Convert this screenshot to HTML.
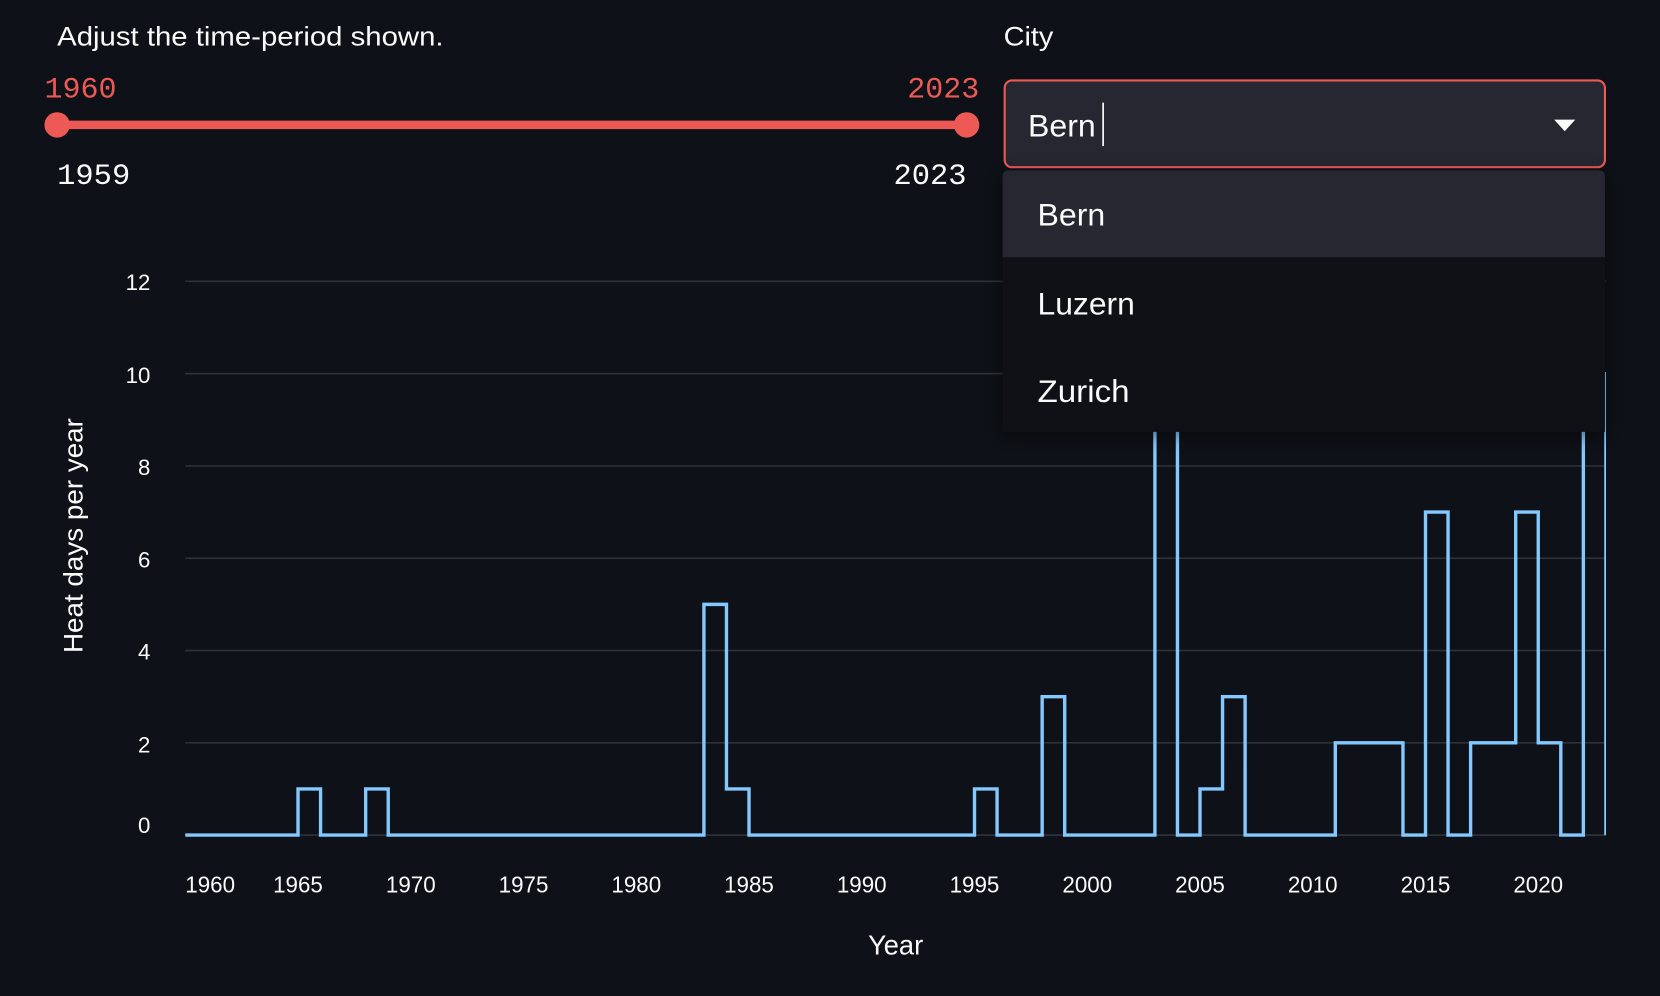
<!DOCTYPE html>
<html>
<head>
<meta charset="utf-8">
<style>
  html,body{margin:0;padding:0;background:#0e1117;overflow:hidden;}
  svg{display:block;}
  .sans{font-family:"Liberation Sans",sans-serif;}
  .mono{font-family:"Liberation Mono",monospace;}
</style>
</head>
<body>
<svg width="1660" height="996" viewBox="0 0 1568 941" preserveAspectRatio="none" xmlns="http://www.w3.org/2000/svg">
  <defs>
    <clipPath id="plot"><rect x="170" y="200" width="1347" height="600"/></clipPath>
    <filter id="blur" x="-10%" y="-10%" width="120%" height="130%" color-interpolation-filters="sRGB">
      <feGaussianBlur stdDeviation="8"/>
    </filter>
  </defs>
  <rect x="0" y="0" width="1568" height="941" fill="#0e1117"/>

  <!-- Slider widget -->
  <text x="54" y="43" class="sans" font-size="25" fill="#fafafa" textLength="365" lengthAdjust="spacingAndGlyphs">Adjust the time-period shown.</text>
  <text x="42" y="92" class="mono" font-size="28" fill="#ed5a55" textLength="68" lengthAdjust="spacingAndGlyphs">1960</text>
  <text x="925" y="92" class="mono" font-size="28" fill="#ed5a55" text-anchor="end" textLength="68" lengthAdjust="spacingAndGlyphs">2023</text>
  <line x1="54" y1="118" x2="913" y2="118" stroke="#ed5a55" stroke-width="8"/>
  <circle cx="54" cy="118" r="12" fill="#ed5a55"/>
  <circle cx="913" cy="118" r="12" fill="#ed5a55"/>
  <text x="54" y="174" class="mono" font-size="28" fill="#fafafa" textLength="69" lengthAdjust="spacingAndGlyphs">1959</text>
  <text x="913" y="174" class="mono" font-size="28" fill="#fafafa" text-anchor="end" textLength="69" lengthAdjust="spacingAndGlyphs">2023</text>

  <!-- Chart gridlines -->
  <g stroke="#2f3139" stroke-width="1.6">
    <line x1="175" y1="265.8" x2="1517" y2="265.8"/>
    <line x1="175" y1="353" x2="1517" y2="353"/>
    <line x1="175" y1="440.2" x2="1517" y2="440.2"/>
    <line x1="175" y1="527.4" x2="1517" y2="527.4"/>
    <line x1="175" y1="614.6" x2="1517" y2="614.6"/>
    <line x1="175" y1="701.8" x2="1517" y2="701.8"/>
    <line x1="175" y1="789" x2="1517" y2="789"/>
  </g>

  <!-- Y tick labels -->
  <g class="sans" font-size="21" fill="#fafafa" text-anchor="end">
    <text x="142" y="274">12</text>
    <text x="142" y="362">10</text>
    <text x="142" y="449">8</text>
    <text x="142" y="536">6</text>
    <text x="142" y="623">4</text>
    <text x="142" y="711">2</text>
    <text x="142" y="787">0</text>
  </g>
  <text transform="translate(78,506) rotate(-90)" class="sans" font-size="25" fill="#fafafa" text-anchor="middle" textLength="222" lengthAdjust="spacingAndGlyphs">Heat days per year</text>

  <!-- X tick labels -->
  <g class="sans" font-size="22" fill="#fafafa" text-anchor="middle">
    <text x="175" y="843" text-anchor="start" textLength="47" lengthAdjust="spacingAndGlyphs">1960</text>
    <text x="281.5" y="843" textLength="47" lengthAdjust="spacingAndGlyphs">1965</text>
    <text x="388" y="843" textLength="47" lengthAdjust="spacingAndGlyphs">1970</text>
    <text x="494.5" y="843" textLength="47" lengthAdjust="spacingAndGlyphs">1975</text>
    <text x="601" y="843" textLength="47" lengthAdjust="spacingAndGlyphs">1980</text>
    <text x="707.5" y="843" textLength="47" lengthAdjust="spacingAndGlyphs">1985</text>
    <text x="814" y="843" textLength="47" lengthAdjust="spacingAndGlyphs">1990</text>
    <text x="920.5" y="843" textLength="47" lengthAdjust="spacingAndGlyphs">1995</text>
    <text x="1027" y="843" textLength="47" lengthAdjust="spacingAndGlyphs">2000</text>
    <text x="1133.5" y="843" textLength="47" lengthAdjust="spacingAndGlyphs">2005</text>
    <text x="1240" y="843" textLength="47" lengthAdjust="spacingAndGlyphs">2010</text>
    <text x="1346.5" y="843" textLength="47" lengthAdjust="spacingAndGlyphs">2015</text>
    <text x="1453" y="843" textLength="47" lengthAdjust="spacingAndGlyphs">2020</text>
  </g>
  <text x="846" y="902" class="sans" font-size="26" fill="#fafafa" text-anchor="middle" textLength="52" lengthAdjust="spacingAndGlyphs">Year</text>

  <!-- Step line -->
  <path clip-path="url(#plot)" fill="none" stroke="#83c9ff" stroke-width="3.2" stroke-linejoin="miter"
    d="M175,789 H281.5 V745.4 H302.8 V789 H345.4 V745.4 H366.7 V789 H664.9 V571 H686.2 V745.4 H707.5 V789 H920.5 V745.4 H941.8 V789 H984.4 V658.2 H1005.7 V789 H1090.9 V265.8 H1112.2 V789 H1133.5 V745.4 H1154.8 V658.2 H1176.1 V789 H1261.3 V701.8 H1325.2 V789 H1346.5 V483.8 H1367.8 V789 H1389.1 V701.8 H1431.7 V483.8 H1453 V701.8 H1474.3 V789 H1495.6 V353 H1516.9 V789"/>

  <!-- City select -->
  <text x="948" y="43" class="sans" font-size="25" fill="#fafafa" textLength="47" lengthAdjust="spacingAndGlyphs">City</text>
  <rect x="949" y="76" width="567" height="82" rx="7" ry="7" fill="#262730" stroke="#ed5a55" stroke-width="2"/>
  <text x="971" y="129" class="sans" font-size="30" fill="#fafafa" textLength="64" lengthAdjust="spacingAndGlyphs">Bern</text>
  <line x1="1042" y1="97" x2="1042" y2="138" stroke="#fafafa" stroke-width="1.6"/>
  <polygon points="1468,113 1488,113 1478,124" fill="#fafafa"/>

  <!-- Dropdown menu -->
  <rect x="947" y="165" width="569" height="247" fill="#000000" opacity="0.45" filter="url(#blur)"/>
  <path d="M947,408 V167 Q947,161 953,161 H1510 Q1516,161 1516,167 V408 Z" fill="#0f1116"/>
  <path d="M947,243 V167 Q947,161 953,161 H1510 Q1516,161 1516,167 V243 Z" fill="#262730"/>
  <text x="980" y="213" class="sans" font-size="30" fill="#fafafa" textLength="64" lengthAdjust="spacingAndGlyphs">Bern</text>
  <text x="980" y="297" class="sans" font-size="30" fill="#fafafa" textLength="92" lengthAdjust="spacingAndGlyphs">Luzern</text>
  <text x="980" y="380" class="sans" font-size="30" fill="#fafafa" textLength="87" lengthAdjust="spacingAndGlyphs">Zurich</text>
</svg>
</body>
</html>
